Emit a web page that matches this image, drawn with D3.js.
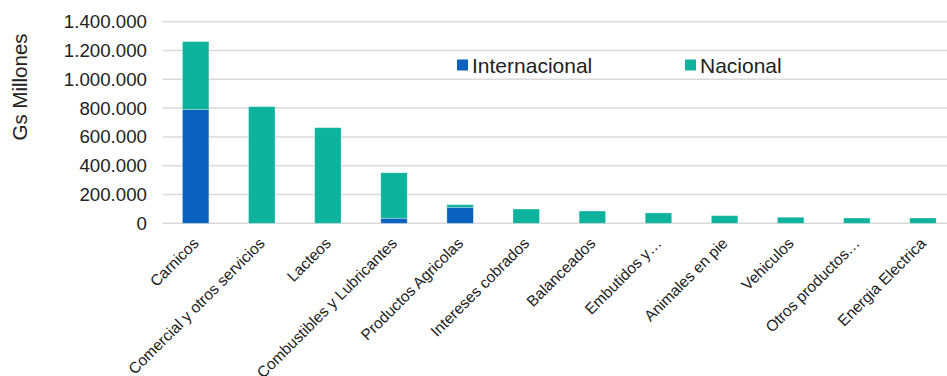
<!DOCTYPE html>
<html>
<head>
<meta charset="utf-8">
<script src="https://cdn.jsdelivr.net/npm/d3@7"></script>
<style>
  html, body { margin: 0; padding: 0; background: #fff; overflow: hidden; }
  svg { display: block; font-family: Arial, "Liberation Sans", sans-serif; }
</style>
</head>
<body>
<svg id="chart" width="947" height="376"></svg>
<script>
const categories = ["Carnicos", "Comercial y otros servicios", "Lacteos", "Combustibles y Lubricantes",
  "Productos Agricolas", "Intereses cobrados", "Balanceados", "Embutidos y…", "Animales en pie",
  "Vehiculos", "Otros productos…", "Energia Electrica"];
const internacional = [790000, 0, 0, 35000, 111000, 0, 0, 0, 0, 0, 0, 0];
const nacional = [472000, 810000, 664000, 316000, 18000, 99000, 85000, 72000, 53000, 42000, 37000, 37000];
const yTicks = [0, 200000, 400000, 600000, 800000, 1000000, 1200000, 1400000];
const seriesNames = ["Internacional", "Nacional"];
const colors = ["#0A62BE", "#0DB39C"];

const svg = d3.select("#chart");
const W = 947, H = 376;
const plotLeft = 162.6, plotRight = 956, plotTop = 21.7, plotBottom = 223.3;

const x = d3.scaleBand().domain(categories).range([plotLeft, plotRight]).paddingInner(0.6).paddingOuter(0.3);
const y = d3.scaleLinear().domain([0, 1400000]).range([plotBottom, plotTop]);

const fmt = v => d3.format(",")(v).replace(/,/g, ".");

// gridlines
svg.append("g").selectAll("line").data(yTicks).join("line")
  .attr("x1", plotLeft).attr("x2", W)
  .attr("y1", d => y(d)).attr("y2", d => y(d))
  .attr("stroke", "#d9d9d9").attr("stroke-width", 1.5);

// y axis labels
const yAxis = d3.axisLeft(y).tickValues(yTicks).tickFormat(fmt).tickSize(0).tickPadding(0);
const gy = svg.append("g").attr("transform", `translate(147,0)`).call(yAxis);
gy.select(".domain").remove();
gy.selectAll("text").attr("font-size", "18.7px").attr("fill", "#222").attr("font-family", "Arial, 'Liberation Sans', sans-serif");

// stacked bars
const rows = categories.map((c, i) => ({ cat: c, Internacional: internacional[i], Nacional: nacional[i] }));
const stack = d3.stack().keys(seriesNames)(rows);
svg.append("g").selectAll("g").data(stack).join("g")
  .attr("fill", (d, i) => colors[i])
  .selectAll("rect").data(d => d).join("rect")
  .attr("x", d => x(d.data.cat))
  .attr("width", x.bandwidth())
  .attr("y", d => y(d[1]))
  .attr("height", d => Math.max(0, y(d[0]) - y(d[1])))
  .attr("stroke", d => (d[1] - d[0]) > 0 ? "rgba(255,255,255,0.35)" : "none")
  .attr("stroke-width", 0.8);

// x axis labels
const xAxis = d3.axisBottom(x).tickSize(0).tickPadding(0);
const gx = svg.append("g").attr("transform", `translate(0,${y(0)})`).call(xAxis);
gx.select(".domain").remove();
gx.selectAll("text")
  .attr("font-size", "15.5px").attr("fill", "#222").attr("font-family", "Arial, 'Liberation Sans', sans-serif")
  .attr("text-anchor", "end")
  .attr("dy", null).attr("y", 0)
  .attr("transform", "translate(4,21) rotate(-45)");

// y axis title
svg.append("text")
  .attr("transform", "translate(27,87) rotate(-90)")
  .attr("text-anchor", "middle")
  .attr("font-size", "20.5px").attr("fill", "#222")
  .text("Gs Millones");

// legend
const legendX = [457, 685];
const lg = svg.append("g").selectAll("g").data(seriesNames).join("g")
  .attr("transform", (d, i) => `translate(${legendX[i]},59.5)`);
lg.append("rect").attr("width", 11).attr("height", 11).attr("fill", (d, i) => colors[i]);
lg.append("text").attr("x", 15).attr("y", 13.5).attr("font-size", "21px").attr("fill", "#222").text(d => d);
</script>
</body>
</html>
